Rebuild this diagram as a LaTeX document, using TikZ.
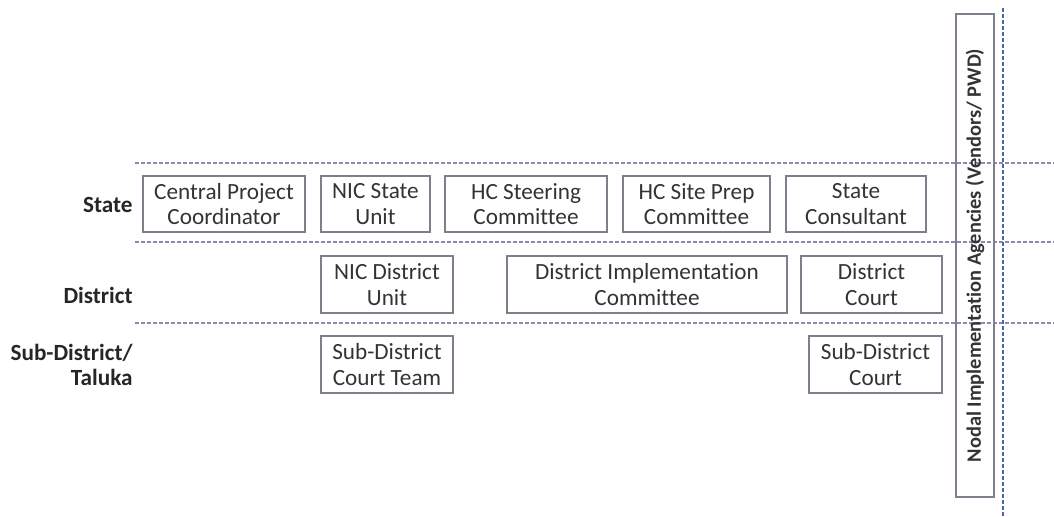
\documentclass[tikz,border=0pt]{standalone}
\usepackage{fontspec}
\setmainfont{Carlito}[Ligatures=NoCommon]
\usetikzlibrary{positioning}
\definecolor{boxedge}{HTML}{7F7F8C}
\definecolor{boxtext}{HTML}{333333}
\definecolor{tierline}{HTML}{8A8AAE}
\definecolor{nodalline}{HTML}{4A68A8}

\tikzset{
  unitbox/.style={draw=boxedge, line width=0.6pt, text=boxtext, align=center,
    font=\fontsize{11.6}{12.6}\selectfont, inner sep=0pt},
  tierlabel/.style={anchor=east, align=right, text=black!85,
    font=\fontsize{11.6}{12.8}\selectfont\bfseries, inner sep=0pt},
  tiersep/.style={tierline, dashed, dash pattern=on 2pt off 1pt, line width=0.6pt}
}

\begin{document}
\begin{tikzpicture}[x=0.5pt, y=-0.5pt]
  \useasboundingbox (0,0) rectangle (1054,516);

  % Tier separators
  \draw[tiersep] (135,163) -- (1054,163);
  \draw[tiersep] (135,242) -- (1054,242);
  \draw[tiersep] (135,323) -- (1054,323);

  % Nodal agencies (vertical)
  \draw[nodalline, dashed, dash pattern=on 2pt off 1pt, line width=0.7pt] (1003,8) -- (1003,516);
  \node[unitbox, minimum width=19pt, minimum height=241.5pt,
    font=\fontsize{10.2}{12}\selectfont\bfseries] (nodal) at (975,255.5)
    {\rotatebox{90}{Nodal Implementation Agencies (Vendors/ PWD)}};

  % Tier labels
  \node[tierlabel] (lstate) at (133,205) {State};
  \node[tierlabel] (ldist) at (133,295) {District};
  \node[tierlabel] (lsub) at (133,365) {Sub-District/\\Taluka};

  % State tier
  \node[unitbox, minimum width=81pt, minimum height=28pt] (cpc) at (224,204) {Central Project\\Coordinator};
  \node[unitbox, minimum width=54.5pt, minimum height=28pt] (nicstate) at (375.5,204) {NIC State\\Unit};
  \node[unitbox, minimum width=81pt, minimum height=28pt] (hcsteer) at (526,204) {HC Steering\\Committee};
  \node[unitbox, minimum width=73.5pt, minimum height=28pt] (hcsite) at (696.5,204) {HC Site Prep\\Committee};
  \node[unitbox, minimum width=70pt, minimum height=28pt] (statecons) at (856,204) {State\\Consultant};

  % District tier
  \node[unitbox, minimum width=66pt, minimum height=28.5pt] (nicdist) at (387,284.5) {NIC District\\Unit};
  \node[unitbox, minimum width=140pt, minimum height=28.5pt] (dic) at (647,284.5) {District Implementation\\Committee};
  \node[unitbox, minimum width=70.5pt, minimum height=28.5pt] (distcourt) at (871.5,284.5) {District\\Court};

  % Sub-district tier
  \node[unitbox, minimum width=66pt, minimum height=28.5pt] (subteam) at (387,364.5) {Sub-District\\Court Team};
  \node[unitbox, minimum width=66.5pt, minimum height=28.5pt] (subcourt) at (875.5,364.5) {Sub-District\\Court};
\end{tikzpicture}
\end{document}
